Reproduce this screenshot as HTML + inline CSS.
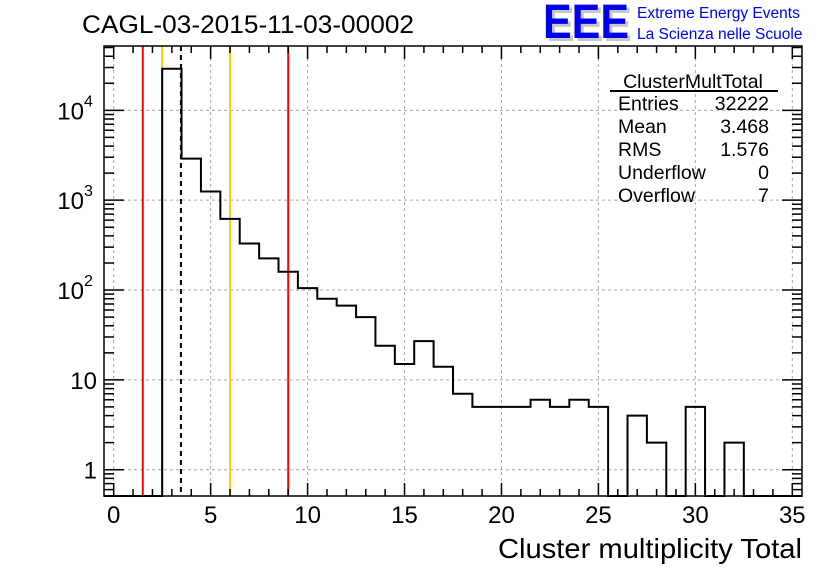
<!DOCTYPE html>
<html><head><meta charset="utf-8"><style>
html,body{margin:0;padding:0;background:#fff;}
svg{display:block;font-family:"Liberation Sans",Arial,sans-serif;}
</style></head><body>
<svg id="c" width="836" height="572" viewBox="0 0 836 572" xmlns="http://www.w3.org/2000/svg">
<text x="82" y="33" font-size="25" textLength="332" lengthAdjust="spacingAndGlyphs">CAGL-03-2015-11-03-00002</text>
<g>
<text x="546" y="41" font-size="48" font-weight="bold" fill="#c8c8c8" textLength="86" lengthAdjust="spacingAndGlyphs">EEE</text>
<text x="543" y="38" font-size="48" font-weight="bold" fill="#0000ee" textLength="86" lengthAdjust="spacingAndGlyphs">EEE</text>
<text x="637" y="18" font-size="15.5" fill="#0000ee">Extreme Energy Events</text>
<text x="637" y="39" font-size="15.5" fill="#0000ee">La Scienza nelle Scuole</text>
</g>
<g id="grid"></g><g id="marks"></g><g id="axes"></g>
<g font-size="19.5">
<text x="693" y="88" text-anchor="middle">ClusterMultTotal</text>
<line x1="610" y1="91" x2="778" y2="91" stroke="#000" stroke-width="2"/>
<text x="618" y="110">Entries</text><text x="769" y="110" text-anchor="end">32222</text>
<text x="618" y="133">Mean</text><text x="769" y="133" text-anchor="end">3.468</text>
<text x="618" y="156">RMS</text><text x="769" y="156" text-anchor="end">1.576</text>
<text x="618" y="179">Underflow</text><text x="769" y="179" text-anchor="end">0</text>
<text x="618" y="202">Overflow</text><text x="769" y="202" text-anchor="end">7</text>
</g>
<text x="802" y="558" font-size="28" text-anchor="end" textLength="304" lengthAdjust="spacingAndGlyphs">Cluster multiplicity Total</text>
</svg>
<script>
const binCenters=[0,1,2,3,4,5,6,7,8,9,10,11,12,13,14,15,16,17,18,19,20,21,22,23,24,25,26,27,28,29,30,31,32,33,34,35];
const binCounts=[0,0,0,29000,2900,1250,620,330,225,160,105,80,67,50,24,15,27,14,7,5,5,5,6,5,6,5,0,4,2,0,5,0,2,0,0,0];
const xTicks=[0,5,10,15,20,25,30,35];
const yTicks=[1,10,100,1000,10000];
const yTickLabels=["1","10","10","10","10"];
const yTickExp=["","","2","3","4"];
const vLines=[{x:1.5,c:"#ff0000"},{x:2.5,c:"#ffcc00"},{x:3.468,c:"#000",d:"5,4"},{x:6,c:"#ffcc00"},{x:9,c:"#ff0000"}];
const L=104,R=802,T=46,B=496,xMin=-0.5,xMax=35.5,yMin=Math.log10(0.51),yMax=Math.log10(52000);
const X=v=>L+(v-xMin)/(xMax-xMin)*(R-L);
const Y=v=>v<=0?B:B-(Math.log10(v)-yMin)/(yMax-yMin)*(B-T);
const NS="http://www.w3.org/2000/svg";
function mk(p,t,a){const e=document.createElementNS(NS,t);for(const k in a)e.setAttribute(k,a[k]);document.getElementById(p).appendChild(e);return e;}
xTicks.forEach(t=>{const g=mk('grid','line',{x1:X(t),x2:X(t),y1:T,y2:B,stroke:'#aaa','stroke-dasharray':'3,3'});

});
yTicks.forEach(t=>{const g=mk('grid','line',{x1:L,x2:R,y1:Y(t),y2:Y(t),stroke:'#aaa','stroke-dasharray':'3,3'});

});
vLines.forEach(v=>{const l=mk('marks','line',{x1:X(v.x),x2:X(v.x),y1:T,y2:B,stroke:v.c,'stroke-width':2});if(v.d)l.setAttribute('stroke-dasharray',v.d);

});
let d="M"+X(binCenters[0]-0.5)+","+B;
binCenters.forEach((c,i)=>{const y=Y(binCounts[i]);d+=" L"+X(c-0.5)+","+y+" L"+X(c+0.5)+","+y;});
const h=mk('marks','path',{d:d,fill:'none',stroke:'#000','stroke-width':2});


const f=mk('axes','rect',{x:L,y:T,width:R-L,height:B-T,fill:'none',stroke:'#000','stroke-width':1.5});


let td="";
for(let v=0;v<=35;v++){const len=v%5==0?13:7;td+=`M${X(v)},${B}v${-len}M${X(v)},${T}v${len}`;}
for(let e=-1;e<=4;e++)for(let m=1;m<=9;m++){const v=m*Math.pow(10,e);const y=Y(v);if(y<T||y>B)continue;const len=m==1?20:10;td+=`M${L},${y}h${len}M${R},${y}h${-len}`;}
const tk=mk('axes','path',{d:td,stroke:'#000','stroke-width':1.5,fill:'none'});


xTicks.forEach(t=>{const e=mk('axes','text',{x:X(t),y:523,'font-size':24,'text-anchor':'middle'});e.textContent=t;

});
yTicks.forEach((t,i)=>{const e=mk('axes','text',{x:yTickExp[i]?84:97,y:Y(t)+9,'font-size':24,'text-anchor':'end'});e.textContent=yTickLabels[i];


if(yTickExp[i]){const s=mk('axes','text',{x:84,y:Y(t)-4,'font-size':16});s.textContent=yTickExp[i];

}});
</script>
</body></html>
